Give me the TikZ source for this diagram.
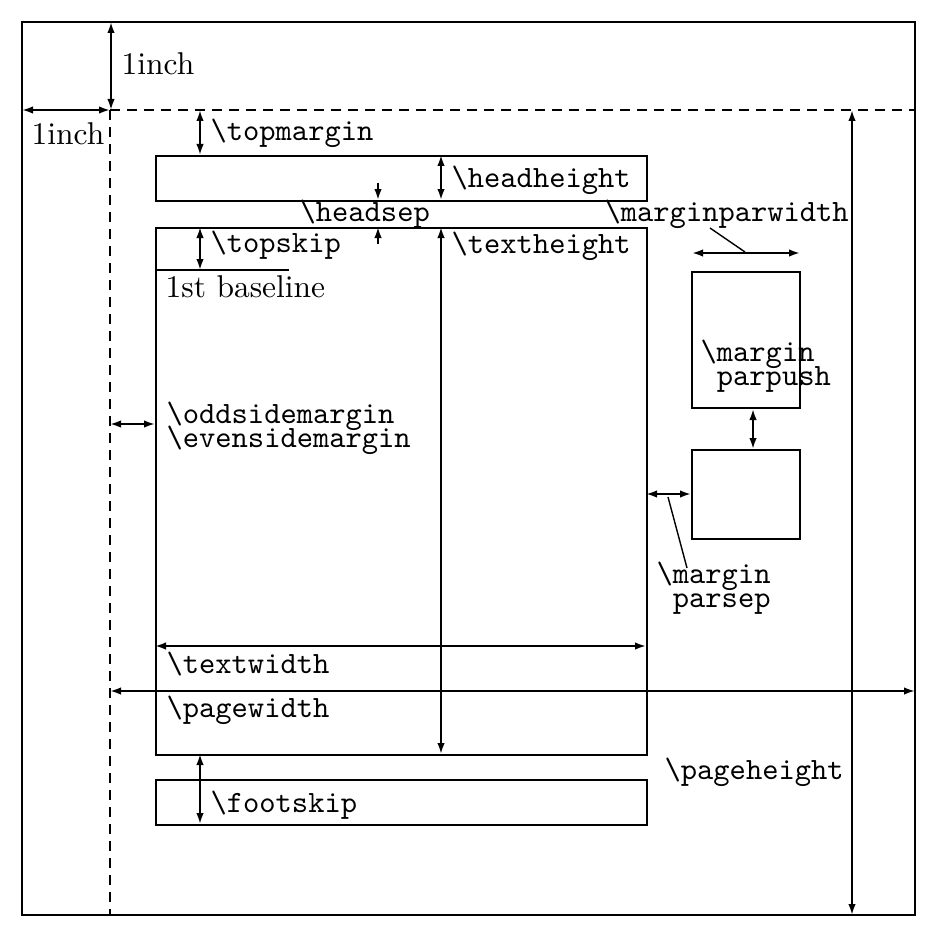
\documentclass[tikz,border=0pt]{standalone}
\usetikzlibrary{arrows.meta}
\newcommand\bs{\textbackslash}
\newcommand\twol[2]{\vtop{\baselineskip=8pt\lineskiplimit=-20pt\lineskip=0pt\hbox{#1}\hbox{#2}}}
\tikzset{
  ln/.style={line width=2pt},
  dim/.style={line width=2pt,{Latex[length=11pt,width=7.5pt]}-{Latex[length=11pt,width=7.5pt]}},
  onearrow/.style={line width=2pt,-{Latex[length=11pt,width=7.5pt]}},
  lead/.style={line width=1.4pt},
  tt/.style={anchor=base west,inner sep=0pt,scale=3.1,transform shape,font=\fontsize{10}{12}\selectfont\ttfamily},
  rm/.style={anchor=base west,inner sep=0pt,scale=3.15,transform shape,font=\fontsize{10}{12}\selectfont\rmfamily},
  dsh/.style={line width=2pt,dash pattern=on 10pt off 7pt}
}
\begin{document}
\begin{tikzpicture}[x=1pt,y=-1pt]
\useasboundingbox (0,0) rectangle (936,936);
% key coordinates
\coordinate (PTL) at (22,22);
\coordinate (PBR) at (915,915);
\coordinate (O) at (110,110);
\coordinate (Oleft) at (22,110);
\coordinate (Oright) at (915,110);
\coordinate (Obot) at (110,915);
% page frame and origin lines
\draw[ln] (PTL) rectangle (PBR);
\draw[dsh] (O) -- (Oright);
\draw[dsh] (O) -- (Obot);
% boxes
\node[draw,ln,minimum width=491pt,minimum height=45pt,inner sep=0pt,anchor=north west] (head) at (155,155) {};
\node[draw,ln,minimum width=491pt,minimum height=527pt,inner sep=0pt,anchor=north west] (body) at (155,227) {};
\node[draw,ln,minimum width=491pt,minimum height=45pt,inner sep=0pt,anchor=north west] (foot) at (155,779) {};
\node[draw,ln,minimum width=108pt,minimum height=136pt,inner sep=0pt,anchor=north west] (mpa) at (691,271) {};
\node[draw,ln,minimum width=108pt,minimum height=89pt,inner sep=0pt,anchor=north west] (mpb) at (691,449) {};
% first baseline
\coordinate (bl1) at (155,270);
\coordinate (bl2) at (289,270);
\draw[ln] (bl1) -- (bl2);
% one inch arrows
\draw[dim] (111,22) -- (111,110);
\draw[dim] (Oleft) -- (O);
\node[rm] (inchA) at (121,75) {1inch};
\node[rm] (inchB) at (31,145) {1inch};
% topmargin
\draw[dim] (200,110) -- (200,155);
\node[tt] (ltopmargin) at (210,141) {\bs topmargin};
% headheight
\draw[dim] (441,155) -- (441,200);
\node[tt] (lheadheight) at (451,187) {\bs headheight};
% headsep
\draw[onearrow] (378,183) -- (378,200);
\draw[onearrow] (378,244) -- (378,227);
\node[tt] (lheadsep) at (299,221) {\bs headsep};
% topskip
\draw[dim] (200,227) -- (200,270);
\node[tt] (ltopskip) at (210,252) {\bs topskip};
\node[rm] (lbaseline) at (165,297) {1st baseline};
% textheight
\draw[dim] (441,227) -- (441,754);
\node[tt] (ltextheight) at (451,253) {\bs textheight};
% marginparwidth
\draw[dim] (692,253) -- (800,253);
\draw[lead] (710,228) -- (745,252);
\node[tt] (lmpw) at (604,221) {\bs marginparwidth};
% marginparpush
\draw[dim] (mpa.south -| 753,0) -- (mpb.north -| 753,0);
\node[tt] (lmpp) at (700,361) {\twol{\bs margin}{\hphantom{p}parpush}};
% oddsidemargin
\draw[dim] (110,424) -- (155,424);
\node[tt] (lodd) at (166,423) {\twol{\bs oddsidemargin}{\bs evensidemargin}};
% marginparsep
\draw[dim] (646,494) -- (691,494);
\draw[lead] (668,497) -- (687,568);
\node[tt] (lmps) at (656,583) {\twol{\bs margin}{\hphantom{p}parsep}};
% textwidth
\draw[dim] (155,646) -- (646,646);
\node[tt] (ltextwidth) at (166,673) {\bs textwidth};
% pagewidth
\draw[dim] (110,691) -- (915,691);
\node[tt] (lpagewidth) at (166,717) {\bs pagewidth};
% footskip
\draw[dim] (200,754) -- (200,824);
\node[tt] (lfootskip) at (210,812) {\bs footskip};
% pageheight
\draw[dim] (852,110) -- (852,915);
\node[tt] (lpageheight) at (664,779) {\bs pageheight};
\end{tikzpicture}
\end{document}
